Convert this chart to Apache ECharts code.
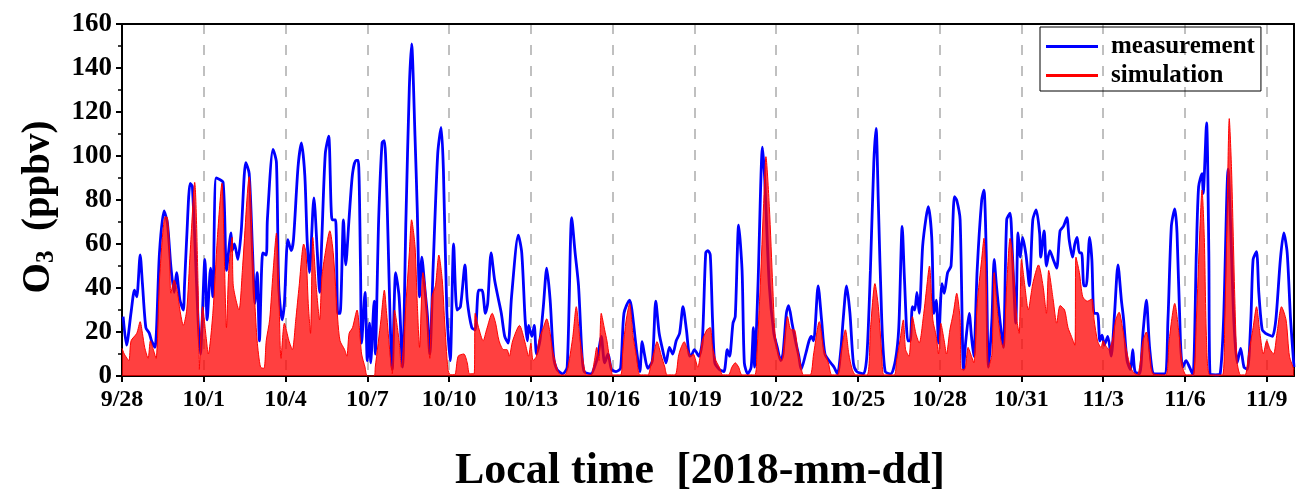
<!DOCTYPE html>
<html>
<head>
<meta charset="utf-8">
<script src="https://cdn.jsdelivr.net/npm/echarts@6/dist/echarts.min.js"></script>
<style>
html,body{margin:0;padding:0;background:#fff;}
#chart{width:1296px;height:499px;}
</style>
</head>
<body>
<div id="chart"></div>
<script>
// hours since 2018-09-28 00:00 local time, O3 in ppbv
const tickLabels = ['9/28','10/1','10/4','10/7','10/10','10/13','10/16','10/19','10/22','10/25','10/28','10/31','11/3','11/6','11/9'];
const measurement = [[1,27],[4,14],[8,29],[11,39],[13,36],[16,55],[18,42],[21,22],[24,19.5],[26,16],[29,13],[33,56],[37,75],[40,69.5],[43,50],[46,38],[48,47],[51,34.5],[54,30],[55,40.6],[57,63],[60,87.6],[62,86],[67,25.5],[69,10],[73,53],[75,25.5],[78,49],[80,36],[83,90],[89,88],[92,48],[96,65],[97,57],[99,60],[102,53],[105,66],[109,97],[112,92],[115,56],[117,33],[119,47],[121,16],[124,56],[127,55],[128,71],[133,103],[136,97],[138,41],[141,25.5],[143,33],[146,62],[149,57],[151,62],[155,95],[158,106],[161,91],[163,62],[165,47],[169,81],[172,56],[174,38],[176,63],[179,101],[182,109],[185,71],[188,71],[190,28.5],[192,28.5],[195,71],[197,50.5],[200,72],[203,92],[206,98],[208,98],[210,50],[211,15],[214,38],[216,7],[218,24],[219,6],[222,34],[223,10],[226,71],[229,106],[231,107],[233,86],[238,3],[241,47],[244,36],[247,4],[250,71],[253,131],[255,151],[258,109],[260,75.5],[262,36],[264,54],[267,38],[269,27],[271,10],[274,50],[278,101],[281,113],[283,94],[286,30],[289,7],[292,60],[295,30],[298,31.5],[302,50.5],[304,34.5],[308,22],[311,21],[314,39],[317,39],[320,28.5],[322,33],[325,56],[328,44],[331,36],[334,28.5],[337,18],[340,15],[343,36],[349,64],[352,56],[355,25.5],[357,16],[358,23],[361,18],[363,23],[365,10],[368,16],[371,31.5],[374,49],[377,34.5],[380,9],[383,3],[388,1],[392,4],[396,72],[399,56],[402,41],[405,10],[407,2],[413,1],[416,4],[419,9],[422,18],[425,6],[428,10],[431,3],[435,2],[439,3.5],[442,28.5],[447,34.5],[449,30],[453,12],[456,2],[458,15.6],[460,10],[463,3.5],[467,7],[470,34],[473,19.4],[476,12],[479,6],[482,13],[485,10],[488,16],[491,19.4],[494,31.5],[497,21],[500,9],[502,10],[504,12],[508,9],[511,16],[514,56],[516,57],[518,55],[520,25.5],[522,6],[526,3],[530,2],[533,12],[535,9],[538,24],[540,27],[543,68.6],[546,48],[548,6],[551,1],[554,4],[556,22],[557,4],[560,41],[564,104],[566,89],[570,41],[574,19.4],[577,13],[580,7],[582,10],[585,28.5],[587,32],[590,24],[593,16],[596,9],[598,3],[602,10],[605,16],[607,18],[609,16],[613,41],[616,25.5],[619,10],[624,6],[627,4],[630,1],[633,12],[635,25.5],[638,41],[641,28.5],[644,6],[647,2],[653,1],[656,10],[659,48],[662,97],[664,112.6],[666,78.5],[669,25.5],[672,2],[677,1],[681,7],[684,22],[687,68],[689,44],[692,16],[694,16],[696,31.5],[698,30],[700,38],[702,28.5],[705,59],[708,72],[710,77],[713,63],[715,28.5],[717,34.5],[719,15],[722,42],[724,37.6],[727,47],[730,50],[733,81.5],[735,80],[738,71],[741,3],[743,16],[746,28.5],[748,18],[750,9],[753,48],[757,80],[759,84.5],[761,56],[763,4],[766,25.5],[768,53],[770,41],[773,25.5],[776,13],[779,71],[782,74],[784,56],[787,24],[789,65],[791,54],[793,63],[796,55],[799,41],[802,71],[805,75.5],[808,65],[809,54],[812,66],[814,50],[817,57],[820,53],[823,49],[826,66],[829,68],[832,72],[834,62],[837,54],[839,60],[841,63],[843,56],[845,56],[847,41],[849,41],[852,63],[854,53],[856,28.5],[859,28.5],[861,16],[863,18.6],[865,14],[868,18],[871,9],[874,28.5],[877,50.5],[880,34.5],[882,25.5],[885,7],[888,3],[890,12],[892,2],[896,1],[899,19.4],[902,34.5],[905,12],[909,1],[918,1],[921,25.5],[924,68],[927,76],[929,65],[932,16],[934,4],[937,7],[940,4],[943,0.5],[946,56],[948,86],[951,92],[952,83],[955,115],[957,56],[958,1],[963,0.5],[967,1],[970,25.5],[974,94],[976,71],[979,25.5],[982,6],[985,12.6],[988,4],[991,3],[994,25.5],[996,53],[999,56.5],[1001,38],[1004,21],[1007,19.4],[1010,18.6],[1013,18],[1016,25.5],[1020,53],[1023,65],[1026,56],[1029,25.5],[1032,4]];
const simulation = [[0,12.6],[2,10],[6,7],[8,16],[13,19.4],[16,24.7],[18,19.4],[20,13],[23,8],[25,16],[27,13],[30,8],[33,43.6],[38,72.4],[40,72],[42,56],[43,37.6],[46,43.6],[49,37.6],[51,30],[54,23],[57,30],[60,56],[64,88],[67,41],[68,3],[71,31.5],[74,18],[76,10],[80,28.5],[84,63],[88,87.6],[90,56],[92,22],[94,48],[97,63],[98,41],[103,30],[106,48],[112,90.6],[115,56],[117,33],[119,16],[122,4],[125,3.5],[127,16],[130,25.5],[133,47],[136,65],[138,41],[140,8],[143,24],[147,16],[150,12],[153,25.5],[156,41],[160,60],[162,56],[164,33],[166,19.4],[168,63],[171,41],[174,25.5],[176,45],[179,56],[183,66],[186,56],[190,25.5],[192,16],[196,12],[198,9],[200,19.4],[203,22],[207,30],[209,22],[211,10],[214,4],[216,0],[222,0],[223,4],[228,25.5],[231,39],[233,28.5],[236,10],[238,1],[240,30],[244,16],[246,4],[250,33],[253,56],[255,71],[258,59],[260,33],[262,13],[265,47],[267,41],[269,25.5],[271,8],[273,36],[276,41],[279,55],[282,43.6],[284,25.5],[287,3],[289,0.6],[293,0.6],[296,9],[301,10],[304,6],[306,1],[310,1],[311,28.5],[314,22],[318,16],[321,21],[326,28.5],[329,24],[332,16],[336,12],[339,12],[341,9],[344,16],[350,23],[355,15],[358,9],[360,15],[362,7],[365,9],[367,16],[371,22],[374,26],[377,19.4],[379,12],[383,3.5],[386,0.5],[390,0.5],[393,5],[397,18],[400,31.5],[403,18],[406,7],[409,0.5],[413,0.5],[416,7],[418,13],[420,7],[422,28.5],[425,21],[427,16],[429,9],[431,4],[432,0.5],[439,0.5],[441,12],[444,25.5],[447,33],[450,18],[453,9],[456,0.5],[463,0.5],[466,6],[469,12],[471,15.6],[475,9],[478,4],[480,0.5],[487,0.5],[490,9],[492,12.6],[495,15.6],[498,12],[501,9],[503,10],[507,4],[511,16],[515,21],[518,22],[520,13],[523,7],[526,4],[529,0.5],[534,0.5],[537,4],[540,6],[543,4],[546,0.5],[557,0.5],[559,10],[562,41],[565,78.5],[567,99.7],[570,77],[573,41],[575,19.4],[578,10],[581,7],[584,19.4],[586,27],[589,21],[592,21],[595,12],[598,4],[600,0.5],[606,0.5],[609,10],[614,24.7],[618,12],[622,6],[625,0.5],[630,0.5],[633,10],[637,21],[640,10],[643,3],[646,0.5],[656,0.5],[659,21],[663,42],[666,31.5],[669,10],[671,0.5],[680,0.5],[682,7],[685,16],[688,25.5],[690,12],[693,9],[696,27],[699,19.4],[702,15],[706,28.5],[708,37.6],[711,50],[714,25.5],[717,18],[719,10],[721,24],[724,16],[726,10],[729,21],[732,28.5],[735,37.6],[738,25.5],[739,3],[742,3],[745,13],[748,9],[750,6],[753,33],[757,53],[759,62.6],[761,42],[763,4],[766,10],[768,47],[771,28.5],[774,16],[776,13],[779,41],[782,62.6],[784,56],[788,25.5],[790,19.4],[792,53],[795,41],[798,30],[802,42],[807,50.5],[811,41],[814,28.5],[816,48],[820,34.5],[823,24],[826,32],[830,30],[833,22],[836,18],[839,14],[840,54],[843,47],[846,36],[850,34],[854,35],[856,25.5],[859,16],[862,13],[864,16],[866,14],[869,12],[872,16],[875,25.5],[878,29],[881,22],[884,13],[887,6],[890,2],[894,0.5],[896,4],[899,16],[902,20],[905,10],[908,1],[919,0.5],[922,16],[927,33],[931,18],[934,4],[937,0.5],[943,0.5],[946,25.5],[949,65],[951,84.5],[953,63],[955,16],[958,0.5],[969,0.5],[971,25.5],[973,71],[975,117],[977,94],[980,33],[982,6],[985,0.5],[989,0.5],[992,10],[996,22],[999,31.5],[1002,19.4],[1005,10],[1008,16],[1011,12],[1014,10],[1017,19.4],[1021,31.5],[1025,25.5],[1028,9],[1032,3]];

const FONT = '"Liberation Serif", "Times New Roman", serif';
const X_MIN = 0, X_MAX = 1032, X_STEP = 72;
const chart = echarts.init(document.getElementById('chart'));
chart.setOption({
  animation: false,
  backgroundColor: '#fff',
  grid: { left: 122, right: 2, top: 24, bottom: 123, show: false },
  legend: {
    orient: 'vertical', left: 1040, top: 27,
    borderColor: '#000', borderWidth: 1, borderRadius: 0,
    padding: [7, 6, 3, 6], itemGap: 4,
    itemWidth: 52, itemHeight: 3, icon: 'rect',
    textStyle: { fontFamily: FONT, fontWeight: 'bold', fontSize: 25, color: '#000', padding: [0, 0, 0, 8] },
    data: [
      { name: 'measurement', itemStyle: { color: '#0000ff' } },
      { name: 'simulation', itemStyle: { color: '#ff0000' } }
    ]
  },
  xAxis: [{
    type: 'value', min: X_MIN, max: X_MAX, interval: X_STEP,
    name: 'Local time  [2018-mm-dd]', nameLocation: 'middle', nameGap: 74,
    nameTextStyle: { fontFamily: FONT, fontWeight: 'bold', fontSize: 44, color: '#000', padding: [0, 16, 0, 0] },
    axisLine: { show: true, onZero: false, lineStyle: { color: '#000', width: 2 } },
    axisTick: { show: true, inside: false, length: 6, lineStyle: { color: '#000', width: 2 } },
    axisLabel: {
      fontFamily: FONT, fontWeight: 'bold', fontSize: 24, color: '#000', margin: 12,
      showMaxLabel: false,
      formatter: v => (v % X_STEP === 0 ? (tickLabels[v / X_STEP] || '') : '')
    },
    splitLine: { show: true, lineStyle: { color: '#c0c0c0', width: 2, type: [10, 11] } }
  }, {
    type: 'value', position: 'top', min: X_MIN, max: X_MAX, interval: X_STEP,
    axisLine: { show: true, onZero: false, lineStyle: { color: '#000', width: 2 } },
    axisTick: { show: false }, axisLabel: { show: false }, splitLine: { show: false }
  }],
  yAxis: [{
    type: 'value', min: 0, max: 160, interval: 20,
    name: '{a|O}{b|3}{a|  (ppbv)}', nameLocation: 'middle', nameGap: 63, nameRotate: 90,
    nameTextStyle: {
      padding: [0, 14, 0, 0],
      rich: {
        a: { fontFamily: FONT, fontWeight: 'bold', fontSize: 39, color: '#000' },
        b: { fontFamily: FONT, fontWeight: 'bold', fontSize: 25, color: '#000', padding: [16, 0, 0, 0] }
      }
    },
    axisLine: { show: true, onZero: false, lineStyle: { color: '#000', width: 2 } },
    axisTick: { show: true, inside: false, length: 6, lineStyle: { color: '#000', width: 2 } },
    minorTick: { show: true, splitNumber: 2, length: 4, lineStyle: { color: '#000', width: 1.5 } },
    axisLabel: { fontFamily: FONT, fontWeight: 'bold', fontSize: 27, color: '#000', margin: 10 },
    splitLine: { show: false }
  }, {
    type: 'value', position: 'right', min: 0, max: 160, interval: 20,
    axisLine: { show: true, onZero: false, lineStyle: { color: '#000', width: 2 } },
    axisTick: { show: false }, axisLabel: { show: false }, splitLine: { show: false }
  }],
  series: [
    {
      name: 'measurement', type: 'line', data: measurement, showSymbol: false, z: 2,
      smooth: 0.25, color: '#0000ff',
      lineStyle: { color: '#0000ff', width: 2.8 }
    },
    {
      name: 'simulation', type: 'line', data: simulation, showSymbol: false, z: 3,
      smooth: 0.25, color: '#ff0000',
      lineStyle: { color: '#ff0000', width: 1 },
      areaStyle: { color: '#ff0000', opacity: 0.75, origin: 'start' }
    }
  ]
});
</script>
</body>
</html>
